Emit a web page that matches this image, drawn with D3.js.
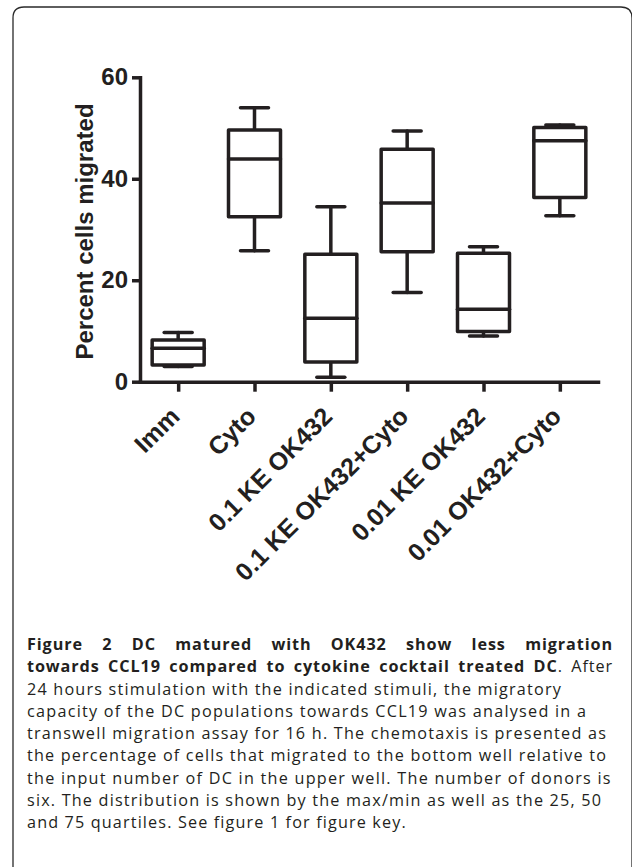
<!DOCTYPE html>
<html>
<head>
<meta charset="utf-8">
<script src="https://cdn.jsdelivr.net/npm/d3@7"></script>
<style>
  html, body { margin: 0; padding: 0; background: #fff; }
  svg { display: block; }
</style>
</head>
<body>
<svg id="chart" width="632" height="867"></svg>
<script>
const categories = ["Imm", "Cyto", "0.1 KE OK432", "0.1 KE OK432+Cyto", "0.01 KE OK432", "0.01 OK432+Cyto"];
const minVals    = [3.0, 25.8, 0.9, 17.6, 9.0, 32.7];
const q1Vals     = [3.3, 32.5, 3.9, 25.6, 9.9, 36.3];
const medianVals = [6.6, 43.9, 12.5, 35.2, 14.3, 47.5];
const q3Vals     = [8.2, 49.6, 25.1, 45.8, 25.3, 50.1];
const maxVals    = [9.7, 54.0, 34.5, 49.4, 26.6, 50.6];
const yTicks = [0, 20, 40, 60];
const yTitle = "Percent cells migrated";

const captionLines = [
  [{t: "Figure 2 DC matured with OK432 show less migration", b: true}],
  [{t: "towards CCL19 compared to cytokine cocktail treated DC", b: true}, {t: ". After", b: false}],
  [{t: "24 hours stimulation with the indicated stimuli, the migratory", b: false}],
  [{t: "capacity of the DC populations towards CCL19 was analysed in a", b: false}],
  [{t: "transwell migration assay for 16 h. The chemotaxis is presented as", b: false}],
  [{t: "the percentage of cells that migrated to the bottom well relative to", b: false}],
  [{t: "the input number of DC in the upper well. The number of donors is", b: false}],
  [{t: "six. The distribution is shown by the max/min as well as the 25, 50", b: false}],
  [{t: "and 75 quartiles. See figure 1 for figure key.", b: false}]
];
const justifiedLines = [0, 1];

const data = categories.map((c, i) => ({
  cat: c, min: minVals[i], q1: q1Vals[i], med: medianVals[i], q3: q3Vals[i], max: maxVals[i]
}));

const svg = d3.select("#chart");
const ink = "#231f20";
const sw = 3.5;

// Frame
svg.append("path")
  .attr("d", "M13,870 V18 Q13,7 24,7 H621 Q632,7 632,18 V870")
  .attr("fill", "none").attr("stroke", "#2a2a2a").attr("stroke-width", 1.3);

const x = d3.scalePoint().domain(categories).range([140, 598]).padding(0.5);
const y = d3.scaleLinear().domain([0, 60]).range([381.7, 77.3]);

const fontChart = "'Liberation Sans', Arial, Helvetica, sans-serif";

// Y axis
const yAxis = svg.append("g").attr("transform", "translate(140,0)")
  .call(d3.axisLeft(y).tickValues(yTicks).tickSize(8).tickSizeOuter(0).tickPadding(4).tickFormat(d3.format("d")));
yAxis.select(".domain").attr("stroke", ink).attr("stroke-width", sw).attr("stroke-linecap", "square");
yAxis.selectAll(".tick line").attr("stroke", ink).attr("stroke-width", sw);
yAxis.selectAll(".tick text").attr("fill", ink).style("font-family", fontChart)
  .style("font-size", "24px").style("font-weight", "bold");

// X axis
const xAxis = svg.append("g").attr("transform", `translate(0,${y(0)})`)
  .call(d3.axisBottom(x).tickSize(10).tickSizeOuter(0).tickFormat(""));
xAxis.select(".domain").attr("stroke", ink).attr("stroke-width", sw).attr("stroke-linecap", "square");
xAxis.selectAll(".tick line").attr("stroke", ink).attr("stroke-width", sw);

// X labels rotated
svg.append("g").selectAll("text").data(categories).join("text")
  .attr("transform", d => `translate(${x(d) + 3},418) rotate(-45)`)
  .attr("text-anchor", "end")
  .attr("fill", ink)
  .style("font-family", fontChart).style("font-size", "25px").style("font-weight", "bold")
  .text(d => d);

// Y title
svg.append("text")
  .attr("transform", `translate(93,${(103 + 360) / 2}) rotate(-90)`)
  .attr("text-anchor", "middle").attr("fill", ink)
  .style("font-family", fontChart).style("font-size", "24px").style("font-weight", "bold")
  .text(yTitle);

// Boxes
const boxW = 52, capW = 28;
const g = svg.append("g").attr("stroke", ink).attr("stroke-width", sw)
  .attr("stroke-linecap", "round").attr("stroke-linejoin", "round").attr("fill", "none");
const bx = g.selectAll("g.box").data(data).join("g").attr("class", "box");
bx.append("line").attr("x1", d => x(d.cat)).attr("x2", d => x(d.cat)).attr("y1", d => y(d.max)).attr("y2", d => y(d.q3));
bx.append("line").attr("x1", d => x(d.cat)).attr("x2", d => x(d.cat)).attr("y1", d => y(d.q1)).attr("y2", d => y(d.min));
bx.append("line").attr("x1", d => x(d.cat) - capW / 2).attr("x2", d => x(d.cat) + capW / 2).attr("y1", d => y(d.max)).attr("y2", d => y(d.max));
bx.append("line").attr("x1", d => x(d.cat) - capW / 2).attr("x2", d => x(d.cat) + capW / 2).attr("y1", d => y(d.min)).attr("y2", d => y(d.min));
bx.append("rect").attr("x", d => x(d.cat) - boxW / 2).attr("width", boxW)
  .attr("y", d => y(d.q3)).attr("height", d => y(d.q1) - y(d.q3)).attr("fill", "#fff");
bx.append("line").attr("x1", d => x(d.cat) - boxW / 2).attr("x2", d => x(d.cat) + boxW / 2).attr("y1", d => y(d.med)).attr("y2", d => y(d.med));

// Caption
const capFont = "'Open Sans', 'Noto Sans', sans-serif";
const capX = 27, capRight = 613, capY0 = 650, capDy = 22.25;
const refSize = 18.8, capSize = 16.2;
captionLines.forEach((parts, i) => {
  // measure the natural width at the reference-matching size
  const probe = svg.append("text").style("font-family", capFont).style("font-size", refSize + "px");
  parts.forEach(p => probe.append("tspan").text(p.t).style("font-weight", p.b ? "bold" : "normal"));
  let target = probe.node().getComputedTextLength();
  probe.remove();
  if (justifiedLines.includes(i)) target = capRight - capX;

  const t = svg.append("text").attr("x", capX).attr("y", capY0 + i * capDy)
    .attr("fill", "#231f20").style("font-family", capFont).style("font-size", capSize + "px");
  parts.forEach(p => t.append("tspan").text(p.t).style("font-weight", p.b ? "bold" : "normal"));
  const w = t.node().getComputedTextLength();
  const full = parts.map(p => p.t).join("");
  const nChars = full.length;
  if (justifiedLines.includes(i)) {
    const ls = 0.9;
    t.style("letter-spacing", ls + "px");
    const w2 = t.node().getComputedTextLength();
    const spaces = (full.match(/ /g) || []).length;
    t.attr("word-spacing", ((target - w2) / spaces) + "px");
  } else {
    t.style("letter-spacing", ((target - w) / nChars) + "px");
  }
});
</script>
</body>
</html>
